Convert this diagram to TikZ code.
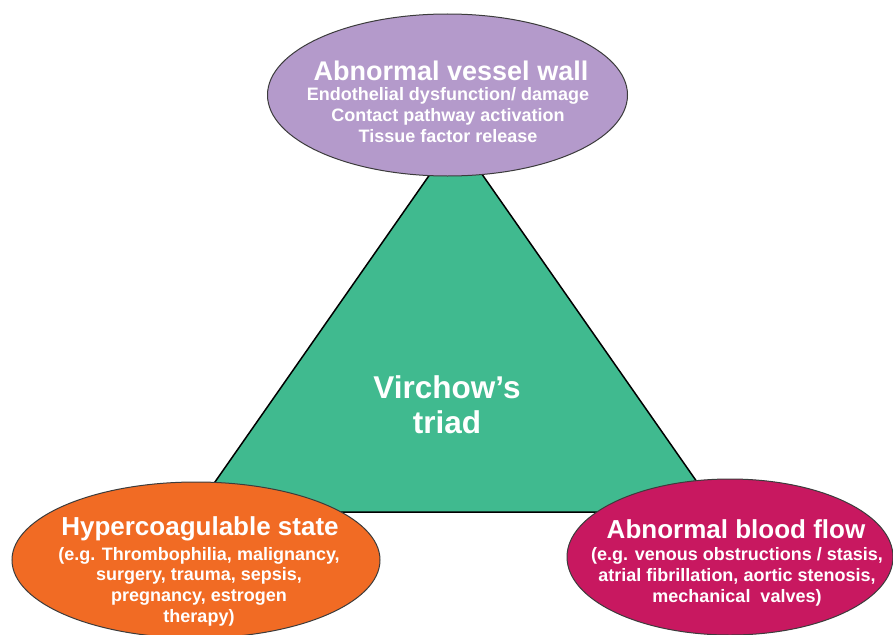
\documentclass[tikz,border=0pt]{standalone}
\usepackage{fontspec}
\setmainfont{Liberation Sans}
\usetikzlibrary{shapes.geometric}
\definecolor{vpurple}{RGB}{180,154,203}
\definecolor{vgreen}{RGB}{64,186,143}
\definecolor{vorange}{RGB}{241,107,36}
\definecolor{vmagenta}{RGB}{200,24,96}
\definecolor{vedge}{RGB}{60,60,60}
\tikzset{
  blob/.style={ellipse, draw=vedge, line width=1pt, inner sep=0pt},
  ttl/.style={text=white, font=\bfseries\fontsize{26}{29}\selectfont, inner sep=0pt, anchor=base},
  body/.style={text=white, font=\bfseries\fontsize{18}{20.6}\selectfont, inner sep=0pt, align=center, anchor=base},
  big/.style={text=white, font=\bfseries\fontsize{31.5}{35}\selectfont, inner sep=0pt, align=center, anchor=base},
}
\begin{document}
\begin{tikzpicture}[x=1pt,y=-1pt]
\clip (0,0) rectangle (893,634);
\fill[white] (0,0) rectangle (893,634);
% triangle
\coordinate (apex) at (456,137);
\coordinate (bl) at (194,512);
\coordinate (br) at (718,512);
\filldraw[fill=vgreen, draw=black, line width=1.5pt, line join=miter] (apex) -- (bl) -- (br) -- cycle;
\node[big] (triad) at (447,433) {Virchow’s\\triad};
% top ellipse
\node[blob, fill=vpurple, minimum width=360pt, minimum height=162pt] (wall) at (447.5,95) {};
\node[ttl, font=\bfseries\fontsize{27}{30}\selectfont] (wallt) at (451,80) {Abnormal vessel wall};
\node[body] (wallb) at (448,142) {Endothelial dysfunction/ damage\\Contact pathway activation\\Tissue factor release};
% bottom left ellipse
\node[blob, fill=vorange, minimum width=368pt, minimum height=156pt] (hyper) at (196,560) {};
\node[ttl] (hypert) at (200,535) {Hypercoagulable state};
\node[body] (hyperb) at (199,622) {(e.g. Thrombophilia, malignancy,\\surgery, trauma, sepsis,\\pregnancy, estrogen\\therapy)};
% bottom right ellipse
\node[blob, fill=vmagenta, minimum width=326pt, minimum height=156pt] (flow) at (730,557) {};
\node[ttl] (flowt) at (736,538) {Abnormal blood flow};
\node[body] (flowb) at (737,602) {(e.g. venous obstructions / stasis,\\atrial fibrillation, aortic stenosis,\\mechanical\ \ valves)};
\end{tikzpicture}
\end{document}
